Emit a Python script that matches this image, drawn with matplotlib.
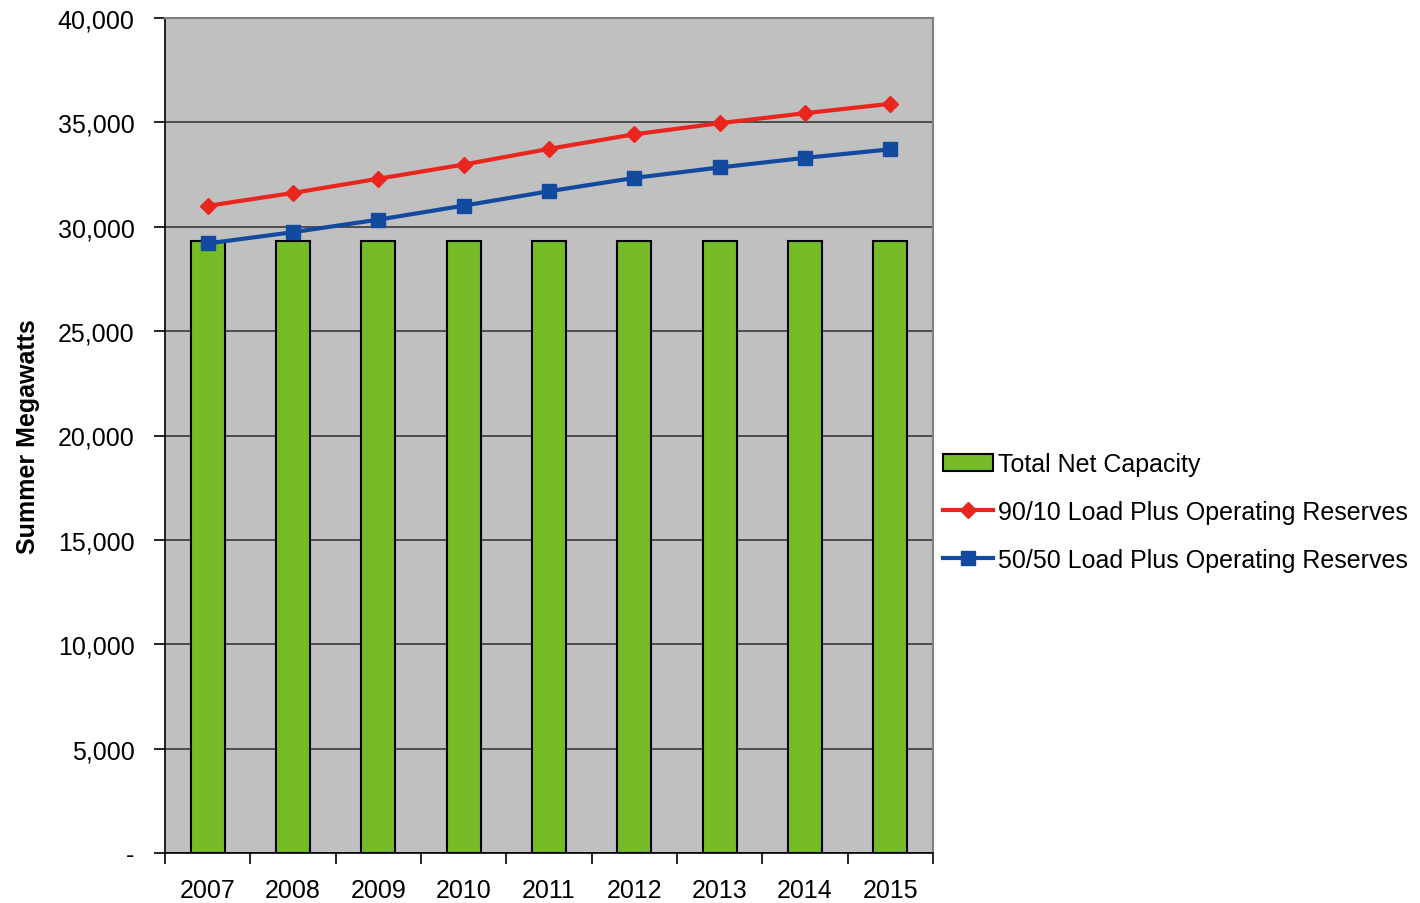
import matplotlib
matplotlib.use("Agg")
import matplotlib.pyplot as plt
import numpy as np
from matplotlib.ticker import FuncFormatter

plt.rcParams['font.family'] = ['Liberation Sans', 'DejaVu Sans']

years = ['2007', '2008', '2009', '2010', '2011', '2012', '2013', '2014', '2015']
net_capacity = [29300, 29300, 29300, 29300, 29300, 29300, 29300, 29300, 29300]
load_90_10 = [31000, 31620, 32300, 32980, 33730, 34430, 34960, 35440, 35890]
load_50_50 = [29200, 29740, 30340, 31010, 31700, 32340, 32840, 33300, 33710]

fig = plt.figure(figsize=(14.2, 9.04), dpi=100)
ax = fig.add_axes([165/1420, 1 - 854/904, (933-165)/1420, (854-19)/904])
ax.set_facecolor('#C0C0C0')

x = np.arange(len(years))
bars = ax.bar(x, net_capacity, width=0.40, color='#76BC28', edgecolor='black',
              linewidth=1.5, label='Total Net Capacity', zorder=2)
l1, = ax.plot(x, load_90_10, color='#E8261E', lw=3, marker='D', ms=8,
              label='90/10 Load Plus Operating Reserves', zorder=3)
l2, = ax.plot(x, load_50_50, color='#124AA0', lw=3, marker='s', ms=10,
              label='50/50 Load Plus Operating Reserves', zorder=3)

ax.set_xlim(-0.5, len(years) - 0.5)
ax.set_ylim(0, 40000)
ax.set_yticks(np.arange(0, 40001, 5000))
ax.yaxis.set_major_formatter(FuncFormatter(lambda v, p: '-' if v == 0 else f'{int(v):,}'))
ax.grid(axis='y', color='#3A3A3A', lw=1.2, zorder=1)
ax.set_axisbelow(True)

# category labels centred, tick marks on the boundaries
ax.set_xticks(x)
ax.set_xticklabels(years)
ax.set_xticks(np.arange(-0.5, len(years)), minor=True)
ax.tick_params(axis='x', which='major', length=0, pad=18, labelsize=18)
ax.tick_params(axis='x', which='minor', length=8, width=1.2, direction='out')
ax.tick_params(axis='y', length=8, width=1.2, direction='out', pad=14, labelsize=18)

for s in ['left', 'bottom']:
    ax.spines[s].set_color('black')
    ax.spines[s].set_linewidth(1.2)
for s in ['top', 'right']:
    ax.spines[s].set_color('#808080')
    ax.spines[s].set_linewidth(1.5)

ax.set_ylabel('Summer Megawatts', fontsize=18, fontweight='bold', labelpad=13)

ax.legend([bars, l1, l2], [bars.get_label(), l1.get_label(), l2.get_label()],
          loc='center left', bbox_to_anchor=(943/1420, 1 - 513/904),
          bbox_transform=fig.transFigure,
          frameon=False, fontsize=18, handlelength=2.0, handletextpad=0.2,
          labelspacing=0.95, borderaxespad=0, borderpad=0)

fig.savefig('out.png', dpi=100)
